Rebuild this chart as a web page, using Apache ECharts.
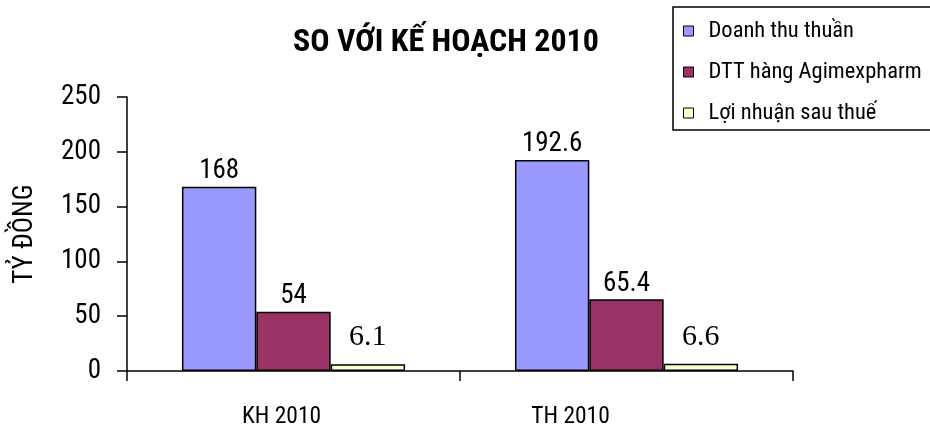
<!DOCTYPE html>
<html><head><meta charset="utf-8">
<script src="https://cdn.jsdelivr.net/npm/echarts@6/dist/echarts.min.js"></script>
<style>html,body{margin:0;padding:0;background:#fff}#c{width:930px;height:433px}</style>
</head><body><div id="c"></div>
<script>
var categories = ['KH 2010', 'TH 2010'];
var seriesNames = ['Doanh thu thuần', 'DTT hàng Agimexpharm', 'Lợi nhuận sau thuế'];
var doanhThu = [168, 192.6];
var dttAgimex = [54, 65.4];
var loiNhuan = [6.1, 6.6];
var yTicks = [0, 50, 100, 150, 200, 250];

var NARROW = '"Roboto Condensed", "Liberation Sans Narrow", "Arial Narrow", sans-serif';
var SERIF = '"Liberation Serif", "Times New Roman", serif';
var colors = ['#9999FF', '#993366', '#FFFFCC'];

var chart = echarts.init(document.getElementById('c'));
function mkSeries(name, data, color, serif) {
  return {
    name: name, type: 'bar', data: data,
    barGap: '0%', barCategoryGap: '33%',
    itemStyle: { color: color, borderColor: '#000', borderWidth: 1.5 },
    label: {
      show: true, position: 'top', distance: serif ? 12 : 2,
      color: '#000',
      fontFamily: serif ? SERIF : NARROW,
      fontSize: serif ? 30 : 27
    },
    emphasis: { disabled: true }
  };
}
chart.setOption({
  animation: false,
  title: {
    text: 'SO VỚI KẾ HOẠCH 2010',
    left: 441, textAlign: 'center', top: 22,
    textStyle: { fontFamily: NARROW, fontWeight: 'bold', fontSize: 32, color: '#000' }
  },
  legend: {
    orient: 'vertical', left: 673, top: 7,
    padding: [12, 24, 5, 10],
    borderColor: '#000', borderWidth: 1.5,
    itemWidth: 10, itemHeight: 10, itemGap: 17,
    icon: 'rect',
    itemStyle: { borderColor: '#000', borderWidth: 1 },
    textStyle: { fontFamily: NARROW, fontSize: 22.5, color: '#000', padding: [0, 0, 0, 10], lineHeight: 24 },
    data: seriesNames
  },
  grid: { left: 127, right: 137, top: 97, bottom: 62, containLabel: false },
  xAxis: {
    type: 'category',
    data: [
      { value: categories[0], textStyle: { padding: [0, 24, 0, 0] } },
      { value: categories[1], textStyle: { padding: [0, 112, 0, 0] } }
    ],
    axisLine: { lineStyle: { color: '#000', width: 1.5 } },
    axisTick: { show: true, alignWithLabel: false, length: 10, lineStyle: { color: '#000', width: 1.5 } },
    axisLabel: { fontFamily: NARROW, fontSize: 23.5, color: '#000', margin: 34 }
  },
  yAxis: {
    type: 'value', min: yTicks[0], max: yTicks[yTicks.length - 1], interval: 50,
    name: 'TỶ ĐỒNG', nameLocation: 'middle', nameGap: 88, nameRotate: 90,
    nameTextStyle: { fontFamily: NARROW, fontSize: 27, color: '#000' },
    axisLine: { show: true, lineStyle: { color: '#000', width: 1.5 } },
    axisTick: { show: true, length: 10, lineStyle: { color: '#000', width: 1.5 } },
    axisLabel: { fontFamily: NARROW, fontSize: 27, color: '#000', margin: 26 },
    splitLine: { show: false }
  },
  series: [
    mkSeries(seriesNames[0], doanhThu, colors[0], false),
    mkSeries(seriesNames[1], dttAgimex, colors[1], false),
    mkSeries(seriesNames[2], loiNhuan, colors[2], true)
  ]
});
</script></body></html>
